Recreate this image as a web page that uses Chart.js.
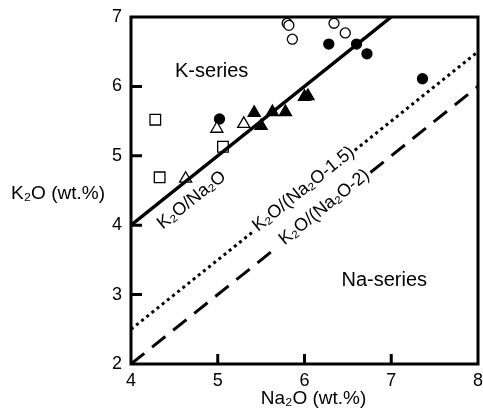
<!DOCTYPE html>
<html>
<head>
<meta charset="utf-8">
<script src="https://cdn.jsdelivr.net/npm/chart.js@4.4.1/dist/chart.umd.min.js"></script>
<style>
  html, body { margin: 0; padding: 0; background: #fff; }
  #wrap { width: 483px; height: 409px; }
</style>
</head>
<body>
<div id="wrap"><canvas id="c" width="483" height="409"></canvas></div>
<script>
// Na2O / K2O sample compositions (wt.%), grouped by symbol
const openSquares    = [[4.28, 5.52], [4.33, 4.69], [5.06, 5.13]];
const openTriangles  = [[4.99, 5.39], [4.63, 4.67], [5.30, 5.46]];
const filledCircles  = [[5.02, 5.53], [6.28, 6.61], [6.60, 6.61], [6.72, 6.47], [7.36, 6.11]];
const openCircles    = [[5.80, 6.91], [5.82, 6.88], [5.86, 6.68], [6.34, 6.91], [6.47, 6.77]];
const filledTriangles = [[5.42, 5.62], [5.50, 5.43], [5.63, 5.63], [5.78, 5.63], [6.00, 5.85], [6.04, 5.86]];

// Discrimination lines (end points, with a break where the label sits)
const lineRatio1   = [[4, 4], [7, 7]];
const lineRatio15  = [[4, 2.5], [5.40, 3.90], null, [6.58, 5.08], [8, 6.5]];
const lineRatio2   = [[4, 2], [5.70, 3.70], null, [6.76, 4.76], [8, 6]];

// Axis tick values
const xTicks = [4, 5, 6, 7, 8];
const yTicks = [2, 3, 4, 5, 6, 7];

const toPts = arr => arr.map(p => p ? { x: p[0], y: p[1] } : { x: NaN, y: null });

const FONT = '"Liberation Sans", Arial, sans-serif';

// Text placed in data space
const fieldLabels = [
  { text: 'K-series',  x: 4.93, y: 6.22 },
  { text: 'Na-series', x: 6.92, y: 3.21 }
];
const lineLabels = [
  { text: 'K₂O/Na₂O',        x: 4.70, y: 4.36 },
  { text: 'K₂O/(Na₂O-1.5)',  x: 5.99, y: 4.52 },
  { text: 'K₂O/(Na₂O-2)',    x: 6.23, y: 4.26 }
];

function scatterSet(data, style, radius, filled) {
  return {
    type: 'scatter',
    data: toPts(data),
    pointStyle: style,
    pointRadius: radius,
    pointHoverRadius: radius,
    pointBackgroundColor: filled ? '#000' : '#fff',
    pointBorderColor: '#000',
    pointBorderWidth: 1.3,
    showLine: false
  };
}
function lineSet(data, width, dash) {
  return {
    type: 'line',
    data: toPts(data),
    borderColor: '#000',
    borderWidth: width,
    borderDash: dash,
    borderCapStyle: 'butt',
    pointRadius: 0,
    pointHoverRadius: 0,
    spanGaps: false,
    fill: false,
    tension: 0
  };
}

const framePlugin = {
  id: 'frame',
  afterDatasetsDraw(chart) {
    const { ctx, chartArea: a, scales: { x, y } } = chart;
    ctx.save();
    ctx.strokeStyle = '#000';
    ctx.lineWidth = 3;
    ctx.strokeRect(a.left, a.top, a.right - a.left, a.bottom - a.top);
    // inward tick marks
    ctx.beginPath();
    xTicks.slice(1, -1).forEach(v => {
      const px = x.getPixelForValue(v);
      ctx.moveTo(px, a.bottom); ctx.lineTo(px, a.bottom - 10);
    });
    yTicks.slice(1, -1).forEach(v => {
      const py = y.getPixelForValue(v);
      ctx.moveTo(a.left, py); ctx.lineTo(a.left + 11, py);
    });
    ctx.stroke();

    ctx.fillStyle = '#000';
    ctx.textAlign = 'center';
    ctx.textBaseline = 'middle';
    ctx.font = '20px ' + FONT;
    fieldLabels.forEach(l => {
      ctx.fillText(l.text, x.getPixelForValue(l.x), y.getPixelForValue(l.y));
    });

    const ang = Math.atan2(y.getPixelForValue(1) - y.getPixelForValue(0),
                           x.getPixelForValue(1) - x.getPixelForValue(0));
    ctx.font = '18px ' + FONT;
    lineLabels.forEach(l => {
      ctx.save();
      ctx.translate(x.getPixelForValue(l.x), y.getPixelForValue(l.y));
      ctx.rotate(ang);
      ctx.fillText(l.text, 0, 0);
      ctx.restore();
    });

    // axis titles
    ctx.font = '19px ' + FONT;
    ctx.fillText('Na₂O (wt.%)', (a.left + a.right) / 2 + 9, a.bottom + 35);
    ctx.fillText('K₂O (wt.%)', a.left - 73, y.getPixelForValue(4.45));
    ctx.restore();
  }
};

new Chart(document.getElementById('c'), {
  data: {
    datasets: [
      lineSet(lineRatio1, 3.5, []),
      lineSet(lineRatio15, 3, [3, 3.6]),
      lineSet(lineRatio2, 3, [17, 10]),
      scatterSet(openSquares, 'rect', 7.5, false),
      scatterSet(openTriangles, 'triangle', 7, false),
      scatterSet(openCircles, 'circle', 5, false),
      scatterSet(filledCircles, 'circle', 5, true),
      scatterSet(filledTriangles, 'triangle', 7, true)
    ]
  },
  options: {
    responsive: false,
    animation: false,
    events: [],
    layout: { autoPadding: false, padding: { left: 0, top: 17, right: 5, bottom: 0 } },
    plugins: { legend: { display: false }, tooltip: { enabled: false } },
    scales: {
      x: {
        type: 'linear', min: 4, max: 8,
        afterFit: s => { s.height = 45; s.paddingLeft = 0; s.paddingRight = 0; },
        afterBuildTicks: s => { s.ticks = xTicks.map(v => ({ value: v })); },
        grid: { display: false, drawTicks: false },
        border: { display: false },
        ticks: { padding: 6, color: '#000', font: { family: FONT, size: 18 } }
      },
      y: {
        type: 'linear', min: 2, max: 7,
        afterFit: s => { s.width = 131; s.paddingTop = 0; s.paddingBottom = 0; },
        afterBuildTicks: s => { s.ticks = yTicks.map(v => ({ value: v })); },
        grid: { display: false, drawTicks: false },
        border: { display: false },
        ticks: { padding: 9, color: '#000', font: { family: FONT, size: 18 } }
      }
    }
  },
  plugins: [framePlugin]
});
</script>
</body>
</html>
